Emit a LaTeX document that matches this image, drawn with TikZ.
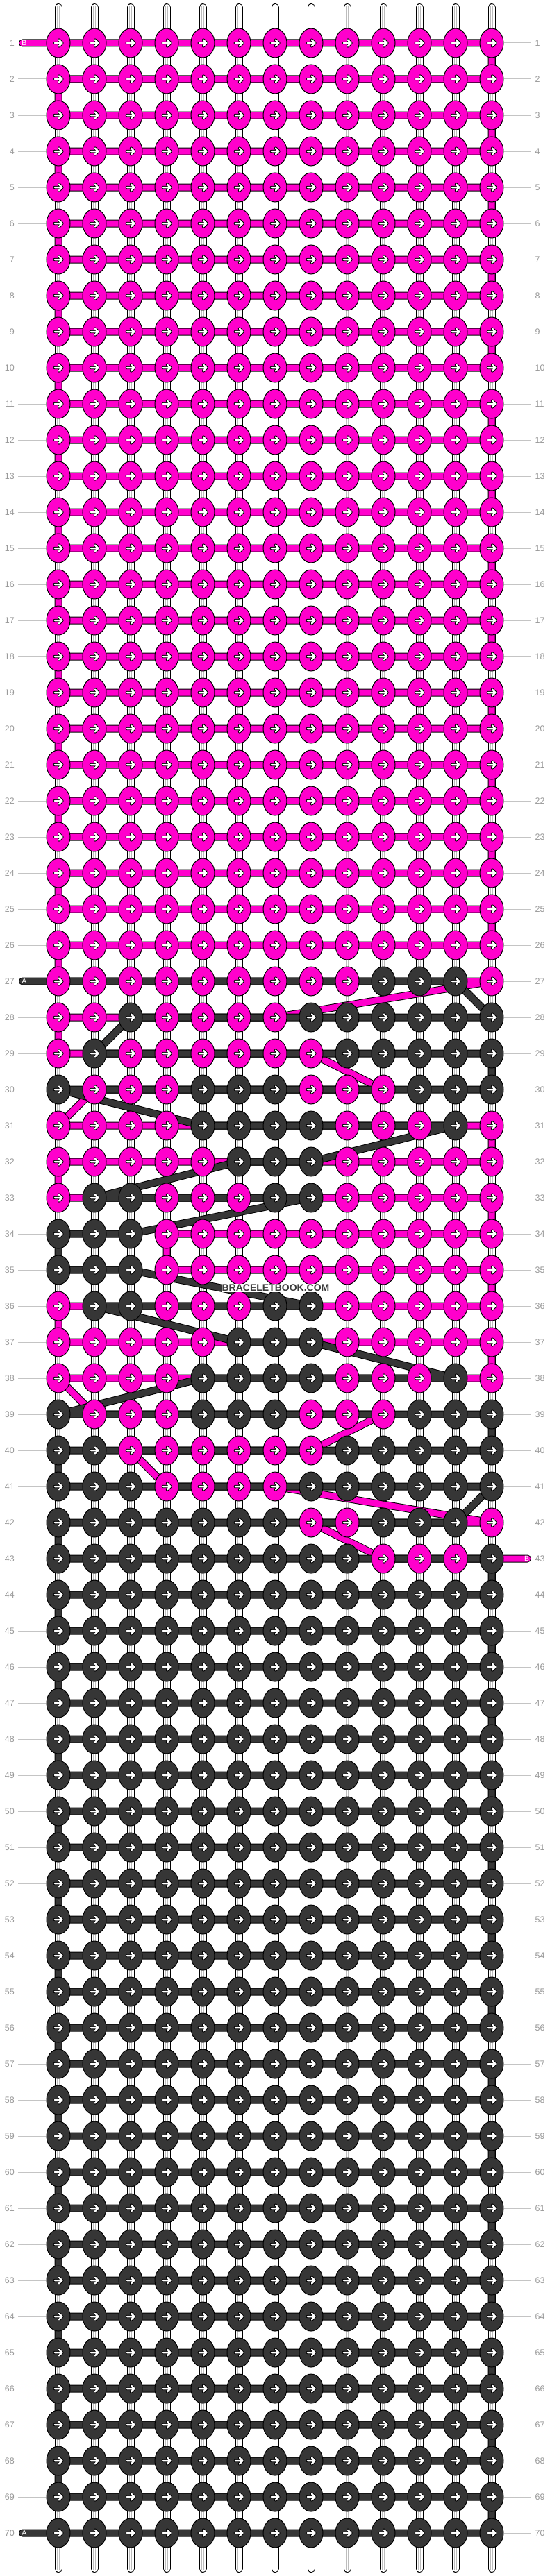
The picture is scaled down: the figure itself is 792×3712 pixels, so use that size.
\documentclass[tikz,border=0pt]{standalone}
\usepackage{fontspec}
\setmainfont{Liberation Sans}
\usetikzlibrary{shapes.geometric}
\definecolor{M}{HTML}{FF00CC}
\definecolor{D}{HTML}{363636}
\definecolor{labgray}{HTML}{9A9A9A}
\definecolor{linegray}{HTML}{C4C4C4}
\definecolor{coregray}{HTML}{BDBDBD}
\definecolor{wmgray}{HTML}{3C3C3C}
\pgfdeclarelayer{strands}
\pgfdeclarelayer{threads}
\pgfsetlayers{strands,threads,main}
\tikzset{
  knot/.style={ellipse, draw=black, line width=1pt, minimum width=34pt, minimum height=42pt, inner sep=0pt},
  arr/.style={path picture={
    \begin{scope}[shift={(path picture bounding box.center)}, xscale=#1]
      \draw[black, line width=4.4pt, line cap=round, line join=round] (-5.2,0) -- (5.4,0) (1,-4.4) -- (5.4,0) -- (1,4.4);
      \draw[white, line width=2.5pt, line cap=round, line join=round] (-5.2,0) -- (5.4,0) (1,-4.4) -- (5.4,0) -- (1,4.4);
    \end{scope}}},
  threadM/.style={draw=black, double=M, double distance=9pt, line width=1pt, line join=round, line cap=round},
  threadD/.style={draw=black, double=D, double distance=9pt, line width=1pt, line join=round, line cap=round},
  strand/.style={draw=black, double=white, double distance=9pt, line width=1pt, line cap=round},
  strandcore/.style={draw=coregray, line width=0.7pt},
  labline/.style={draw=linegray, line width=1pt},
  numlab/.style={text=labgray, font=\fontsize{12.5}{13}\selectfont, inner sep=0pt},
  stublab/.style={text=white, font=\fontsize{10.5}{11}\selectfont, inner sep=0pt, anchor=base},
  watermark/.style={text=wmgray, font=\bfseries\fontsize{14}{14}\selectfont, fill=white, inner sep=1pt}
}
\newcommand\knotat[3]{%
  \ifodd#1\relax
    \node[knot, fill=#3, arr=1] (k-#1-#2) at ({84+52*(#2-1)},{62+52*(#1-1)}) {};%
  \else
    \node[knot, fill=#3, arr=-1] (k-#1-#2) at ({84+52*(#2-1)},{62+52*(#1-1)}) {};%
  \fi}
\newcommand\krow[2]{\foreach \cc [count=\c] in {#2}{\knotat{#1}{\c}{\cc}}}
\begin{document}
\begin{tikzpicture}[x=1pt,y=-1pt]
\useasboundingbox (0,0) rectangle (792,3712);
% knots
\foreach \r in {1,...,26}{\foreach \c in {1,...,13}{\knotat{\r}{\c}{M}}}
\krow{27}{M,M,M,M,M,M,M,M,M,D,D,D,M}
\krow{28}{M,M,D,M,M,M,M,D,D,D,D,D,D}
\krow{29}{M,D,M,M,M,M,M,M,D,D,D,D,D}
\krow{30}{D,M,M,M,D,D,D,M,M,M,D,D,D}
\krow{31}{M,M,M,M,D,D,D,D,M,M,M,D,M}
\krow{32}{M,M,M,M,M,D,D,D,M,M,M,M,M}
\krow{33}{M,D,D,M,M,M,D,D,M,M,M,M,M}
\krow{34}{D,D,D,M,M,M,M,M,M,M,M,M,M}
\krow{35}{D,D,D,M,M,M,M,M,M,M,M,M,M}
\krow{36}{M,D,D,M,M,M,D,D,M,M,M,M,M}
\krow{37}{M,M,M,M,M,D,D,D,M,M,M,M,M}
\krow{38}{M,M,M,M,D,D,D,D,M,M,M,D,M}
\krow{39}{D,M,M,M,D,D,D,M,M,M,D,D,D}
\krow{40}{D,D,M,M,M,M,M,M,D,D,D,D,D}
\krow{41}{D,D,D,M,M,M,M,D,D,D,D,D,D}
\krow{42}{D,D,D,D,D,D,D,M,M,D,D,D,M}
\krow{43}{D,D,D,D,D,D,D,D,D,M,M,M,D}
\foreach \r in {44,...,70}{\foreach \c in {1,...,13}{\knotat{\r}{\c}{D}}}
% thread ends
\coordinate (bS) at (32.5,62);
\coordinate (bE) at (759.5,2246);
\coordinate (aS) at (32.5,1414);
\coordinate (aE) at (32.5,3650);
% base strands and row guide lines
\begin{pgfonlayer}{strands}
\foreach \c in {1,...,13}{
  \coordinate (st-\c) at ({84+52*(\c-1)},10.5);
  \coordinate (sb-\c) at ({84+52*(\c-1)},3701.5);
  \coordinate (ct-\c) at ({84+52*(\c-1)},8.5);
  \coordinate (cb-\c) at ({84+52*(\c-1)},3703.5);
  \draw[strand] (st-\c) -- (sb-\c);
  \draw[strandcore] ([xshift=-1.6pt]ct-\c) -- ([xshift=-1.6pt]cb-\c);
  \draw[strandcore] ([xshift=1.6pt]ct-\c) -- ([xshift=1.6pt]cb-\c);
}
\foreach \r in {2,...,26,28,29,...,69}{
  \coordinate (la-\r) at (26,{62+52*(\r-1)});
  \coordinate (lb-\r) at (66,{62+52*(\r-1)});
  \draw[labline] (la-\r) -- (lb-\r);
}
\foreach \r in {1,...,42,44,45,...,70}{
  \coordinate (ra-\r) at (726,{62+52*(\r-1)});
  \coordinate (rb-\r) at (765,{62+52*(\r-1)});
  \draw[labline] (ra-\r) -- (rb-\r);
}
\end{pgfonlayer}
% working threads
\begin{pgfonlayer}{threads}
\draw[threadM] (bS)
  \foreach \r [evaluate=\r as \s using int(\r+1)] in {1,3,...,25} { -- (k-\r-1.center) -- (k-\r-13.center) -- (k-\s-13.center) -- (k-\s-1.center) }
  -- (k-27-1.center) -- (k-27-13.center) -- (k-28-7.center) -- (k-28-1.center)
  -- (k-29-1.center) -- (k-29-8.center) -- (k-30-10.center) -- (k-30-2.center)
  -- (k-31-1.center) -- (k-31-13.center) -- (k-32-13.center) -- (k-32-1.center)
  -- (k-33-1.center) -- (k-33-13.center) -- (k-34-13.center) -- (k-34-4.center)
  -- (k-35-4.center) -- (k-35-13.center) -- (k-36-13.center) -- (k-36-1.center)
  -- (k-37-1.center) -- (k-37-13.center) -- (k-38-13.center) -- (k-38-1.center)
  -- (k-39-2.center) -- (k-39-10.center) -- (k-40-8.center) -- (k-40-3.center)
  -- (k-41-4.center) -- (k-41-7.center) -- (k-42-13.center) -- (k-42-8.center)
  -- (k-43-10.center) -- (k-43-12.center) -- (bE);
\draw[threadD] (aS)
  -- (k-27-10.center) -- (k-27-12.center) -- (k-28-13.center) -- (k-28-3.center)
  -- (k-29-2.center) -- (k-29-13.center) -- (k-30-13.center) -- (k-30-1.center)
  -- (k-31-5.center) -- (k-31-12.center) -- (k-32-8.center) -- (k-32-6.center)
  -- (k-33-2.center) -- (k-33-8.center) -- (k-34-3.center) -- (k-34-1.center)
  -- (k-35-1.center) -- (k-35-3.center) -- (k-36-8.center) -- (k-36-2.center)
  -- (k-37-6.center) -- (k-37-8.center) -- (k-38-12.center) -- (k-38-5.center)
  -- (k-39-1.center) -- (k-39-13.center) -- (k-40-13.center) -- (k-40-1.center)
  -- (k-41-1.center) -- (k-41-13.center) -- (k-42-12.center) -- (k-42-1.center)
  \foreach \r [evaluate=\r as \s using int(\r+1)] in {43,45,...,69} { -- (k-\r-1.center) -- (k-\r-13.center) -- (k-\s-13.center) -- (k-\s-1.center) }
  -- (aE);
\end{pgfonlayer}
% row numbers
\foreach \r in {1,...,70}{
  \node[numlab, anchor=base east] (nl-\r) at (21,{62+52*(\r-1)+4.4}) {\r};
  \node[numlab, anchor=base west] (nr-\r) at (770.5,{62+52*(\r-1)+4.4}) {\r};
}
% thread end letters
\node[stublab] (tB1) at (34.8,65.8) {B};
\node[stublab] (tA1) at (35,1417.8) {A};
\node[stublab] (tB2) at (758.5,2249.8) {B};
\node[stublab] (tA2) at (35,3653.8) {A};
% watermark
\node[watermark] (wm) at (397,1856) {BRACELETBOOK.COM};
\end{tikzpicture}
\end{document}
